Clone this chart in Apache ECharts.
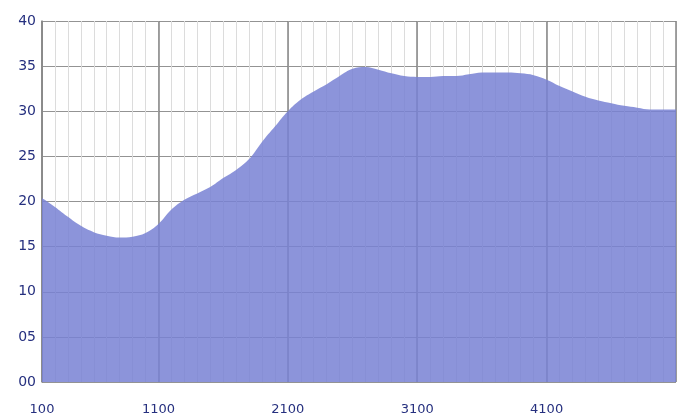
<!DOCTYPE html>
<html>
<head>
<meta charset="utf-8">
<script src="https://cdn.jsdelivr.net/npm/echarts@6/dist/echarts.min.js"></script>
<style>
html,body{margin:0;padding:0;background:#fff;}
#chart{width:686px;height:418px;}
</style>
</head>
<body>
<div id="chart"></div>
<script>
// x positions (category slots), one every 100 units
const xValues = ['200','300','400','500','600','700','800','900','1000','1100',
  '1200','1300','1400','1500','1600','1700','1800','1900','2000','2100',
  '2200','2300','2400','2500','2600','2700','2800','2900','3000','3100',
  '3200','3300','3400','3500','3600','3700','3800','3900','4000','4100',
  '4200','4300','4400','4500','4600','4700','4800','4900','5000','5100'];
// series values
const yValues = [20.4,19.4,18.3,17.3,16.6,16.2,16.0,16.1,16.5,17.5,
  19.1,20.2,20.9,21.6,22.6,23.5,24.7,26.6,28.3,30.0,
  31.3,32.2,33.0,33.9,34.7,34.9,34.6,34.2,33.9,33.8,
  33.8,33.9,33.9,34.1,34.3,34.3,34.3,34.2,34.0,33.5,
  32.8,32.2,31.6,31.2,30.9,30.6,30.4,30.2,30.2,30.2];
// major x ticks and their labels
const majorTickIdx = [0, 9, 19, 29, 39, 49];
const majorTickLabels = ['100', '1100', '2100', '3100', '4100', ''];
// y tick labels
const yTickValues = [0,5,10,15,20,25,30,35,40];
const yTickLabels = ['00','05','10','15','20','25','30','35','40'];

const chart = echarts.init(document.getElementById('chart'));
chart.setOption({
  backgroundColor:'#fff',
  animation:false,
  grid:{left:42, right:10, top:21, bottom:36},
  xAxis:[{
    type:'category', data:xValues, boundaryGap:false,
    axisLine:{show:false}, axisTick:{show:false},
    axisLabel:{
      interval:(i)=>majorTickIdx.includes(i),
      margin:21, color:'#26307f', fontFamily:'DejaVu Sans', fontSize:13,
      formatter:(v,i)=>{const k=majorTickIdx.indexOf(i);return k>=0?majorTickLabels[k]:'';}
    },
    splitLine:{show:true, interval:0, lineStyle:{color:'#dcdcdc', width:1}}
  },{
    type:'category', data:xValues, boundaryGap:false, position:'bottom',
    axisLine:{show:false}, axisTick:{show:false}, axisLabel:{show:false},
    splitLine:{show:true, interval:(i)=>majorTickIdx.includes(i), lineStyle:{color:'#858585', width:1.5}}
  }],
  yAxis:{
    type:'value', min:0, max:40, interval:5,
    axisLine:{show:true, lineStyle:{color:'#858585', width:1.5}},
    axisTick:{show:false},
    axisLabel:{
      margin:6, color:'#26307f', fontFamily:'DejaVu Sans', fontSize:14,
      formatter:(v)=>{const k=yTickValues.indexOf(v);return k>=0?yTickLabels[k]:'';}
    },
    splitLine:{show:true, lineStyle:{color:'#939393', width:1.2}}
  },
  series:[{
    type:'line', data:yValues, smooth:0.4, symbol:'none',
    lineStyle:{width:0},
    areaStyle:{color:'rgb(120,129,211)', opacity:0.85}
  }]
});
</script>
</body>
</html>
